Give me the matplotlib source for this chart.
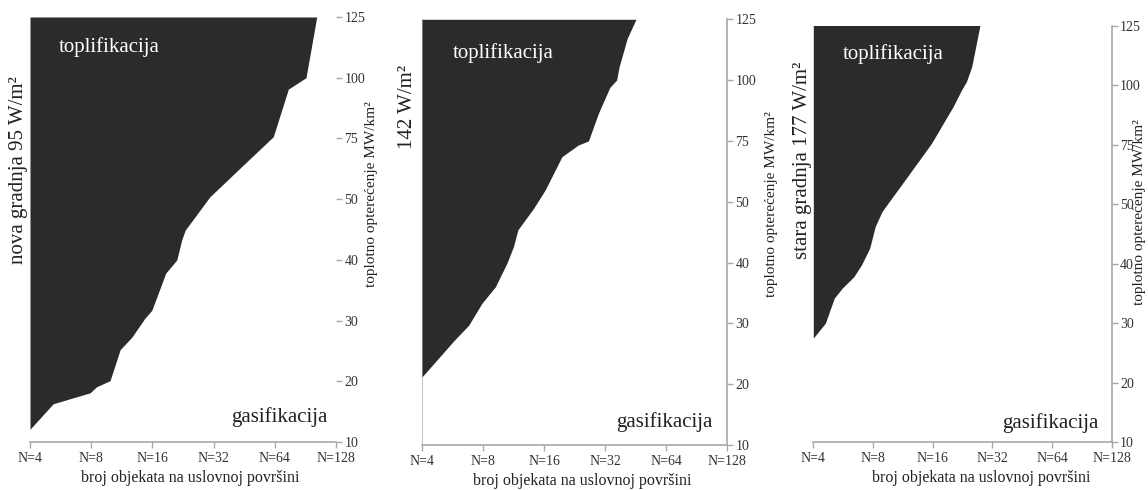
import numpy as np
import matplotlib
matplotlib.use("Agg")
import matplotlib.pyplot as plt
from matplotlib.ticker import NullLocator

# ---------------- data ----------------
N_TICKS = [4, 8, 16, 32, 64, 128]
N_LABELS = ["N=4", "N=8", "N=16", "N=32", "N=64", "N=128"]
Y_TICKS = [10, 20, 30, 40, 50, 75, 100, 125]
Y_LABELS = ["10", "20", "30", "40", "50", "75", "100", "125"]

# boundary between district heating (toplifikacija) and gas (gasifikacija)
p1_load = [125, 100, 95.3, 75.7, 66, 51, 44.9, 43.3, 40, 37.8, 31.7, 30.4, 27.3, 25.2, 20.1, 19.1, 18.1, 16.3, 12.1]
p1_N = [102.9, 91.1, 74.6, 62.9, 47.4, 30.7, 23.2, 22.3, 21.1, 18.6, 15.9, 14.7, 12.7, 11.1, 9.9, 8.5, 7.9, 5.2, 4.0]

p2_load = [125, 117.2, 105.6, 100, 97, 86.4, 75, 73.3, 68.5, 54.8, 48.9, 45.4, 42.6, 39.9, 36, 33.3, 29.7, 27.3, 21.2]
p2_N = [45.5, 41.2, 37.6, 36.5, 33.8, 29.7, 26.5, 23.6, 19.6, 16.2, 14.2, 11.9, 11.3, 10.5, 9.2, 7.9, 6.8, 5.8, 4.0]

p3_load = [125, 107.8, 101.5, 98, 91, 75.6, 61, 48.8, 46.2, 42.6, 39.8, 37.8, 35.9, 34.2, 30, 27.5]
p3_N = [27.7, 25.2, 23.7, 22.4, 20.3, 15.8, 11.8, 8.9, 8.2, 7.7, 7.0, 6.4, 5.6, 5.1, 4.6, 4.0]

titles = ["nova gradnja 95 W/m²", "142 W/m²", "stara gradnja 177 W/m²"]
ylabel = "toplotno opterećenje MW/km²"
xlabel = "broj objekata na uslovnoj površini"

# ---------------- figure ----------------
W, H = 1148, 490
plt.rcParams['font.family'] = ['Liberation Serif', 'DejaVu Serif']
fig = plt.figure(figsize=(W / 100, H / 100), dpi=100)
fig.patch.set_facecolor('white')

FILL = '#2b2b2b'
SPINE = '#a8a8a8'
TXT = '#222222'

def fx(px):
    return px / W

def fy(py):
    return 1 - py / H

idx = np.arange(len(Y_TICKS), dtype=float)

def fwd(v):
    return np.interp(np.asarray(v, dtype=float), Y_TICKS, idx)

def inv(v):
    return np.interp(np.asarray(v, dtype=float), idx, Y_TICKS)

# axes boxes in pixels: (left, right, top, bottom)
boxes = [(30, 336, 17, 442), (422, 727, 19.3, 445), (813.3, 1111.7, 25.5, 442.3)]
datas = [(p1_load, p1_N), (p2_load, p2_N), (p3_load, p3_N)]

axes = []
for i, ((l, r, t, b), (load, nn)) in enumerate(zip(boxes, datas)):
    ax = fig.add_axes([fx(l), fy(b), (r - l) / W, (b - t) / H])
    ax.set_xscale('log', base=2)
    ax.set_yscale('function', functions=(fwd, inv))
    ax.set_xlim(4, 128)
    ax.set_ylim(10, 125)
    ax.fill_betweenx(load, 4, nn, color=FILL, lw=0)
    ax.set_xticks(N_TICKS)
    ax.set_xticklabels(N_LABELS)
    ax.xaxis.set_minor_locator(NullLocator())
    ax.set_yticks(Y_TICKS)
    ax.set_yticklabels(Y_LABELS)
    ax.yaxis.set_minor_locator(NullLocator())
    ax.yaxis.tick_right()
    ax.tick_params(axis='both', colors=SPINE, labelcolor='#333333', labelsize=10,
                   length=4, width=1, pad=2)
    ax.tick_params(axis='x', pad=3)
    for s in ['top', 'left']:
        ax.spines[s].set_visible(False)
    ax.spines['bottom'].set_color(SPINE)
    ax.spines['right'].set_color(SPINE)
    ax.spines['bottom'].set_linewidth(1.2)
    ax.spines['right'].set_linewidth(1.2)
    if i == 0:
        ax.spines['right'].set_visible(False)
    if i == 1:
        ax.spines['left'].set_visible(True)
        ax.spines['left'].set_color('#c8c8c8')
        ax.spines['left'].set_linewidth(0.8)
        ax.spines['left'].set_zorder(0)
    ax.set_facecolor('none')
    axes.append(ax)

# toplifikacija / gasifikacija labels
top_pos = [(109, 46.7), (503, 53), (892.7, 54)]
gas_pos = [(279, 416.7), (664, 421.7), (1050.5, 422.7)]
for (x, y) in top_pos:
    fig.text(fx(x), fy(y), "toplifikacija", color='white', fontsize=15, ha='center', va='center')
for (x, y) in gas_pos:
    fig.text(fx(x), fy(y), "gasifikacija", color=TXT, fontsize=15, ha='center', va='center')

# panel titles (rotated, on the left)
title_pos = [(19, 170), (408, 107), (802, 160)]
for (x, y), t in zip(title_pos, titles):
    fig.text(fx(x), fy(y), t, rotation=90, fontsize=15, color=TXT, ha='center', va='center')

# right y-axis labels
ylab_pos = [(372, 194), (772, 204), (1140, 212)]
for (x, y) in ylab_pos:
    fig.text(fx(x), fy(y), ylabel, rotation=90, fontsize=11, color=TXT, ha='center', va='center')

# x labels
xlab_pos = [(190, 478), (582, 481), (981, 478)]
for (x, y) in xlab_pos:
    fig.text(fx(x), fy(y), xlabel, fontsize=11.5, color=TXT, ha='center', va='center')

fig.savefig("out.png", dpi=100, facecolor='white')
